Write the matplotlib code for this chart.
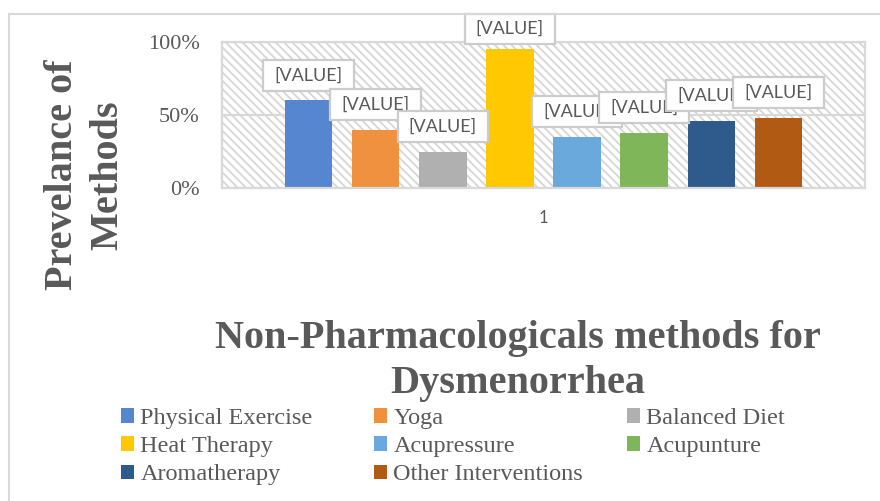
import matplotlib
matplotlib.use("Agg")
import matplotlib.pyplot as plt
from matplotlib.patches import Rectangle
from matplotlib.path import Path
from matplotlib.ticker import PercentFormatter

# ---- data ----
categories = ["1"]
series_names = ["Physical Exercise", "Yoga", "Balanced Diet", "Heat Therapy",
                "Acupressure", "Acupunture", "Aromatherapy", "Other Interventions"]
series_values = [0.60, 0.40, 0.25, 0.95, 0.35, 0.38, 0.46, 0.48]
series_colors = ["#5586CF", "#F0913F", "#B0B0B0", "#FFC800",
                 "#6AA9DC", "#80B65A", "#2E5A8C", "#B05A14"]
y_ticks = [0, 0.5, 1.0]
data_label_text = "[VALUE]"
y_title = "Prevelance of\nMethods"
x_title = "Non-Pharmacologicals methods for\nDysmenorrhea"

TXT = "#595959"
LIGHT = "#d9d9d9"
SERIF = ["Liberation Serif", "DejaVu Serif"]
SANS = ["Lato", "DejaVu Sans"]

plt.rcParams["hatch.linewidth"] = 1.3

W, H = 880, 501
fig = plt.figure(figsize=(W / 100, H / 100), dpi=100)
fig.patch.set_facecolor("white")

# outer chart frame
fig.patches.append(Rectangle((9 / W, -0.1), 1.2, 0.1 + (H - 13.5) / H,
                             transform=fig.transFigure, fill=False,
                             edgecolor=LIGHT, linewidth=1.5, zorder=0))

ax_l, ax_r, ax_t, ax_b = 222, 865, 42, 188
ax = fig.add_axes([ax_l / W, (H - ax_b) / H, (ax_r - ax_l) / W, (ax_b - ax_t) / H])
ax.set_facecolor("white")

# hatched plot-area background
ax.add_patch(Rectangle((0, 0), 1, 1, transform=ax.transAxes, facecolor="white",
                       edgecolor="#d6d6d6", hatch="\\\\\\\\", linewidth=0, zorder=0.2))

n = len(series_names)
step = 1.0
bw = 0.707


def label_box(x0, y0, width, height, mutation_size):
    px = 0.62 * mutation_size
    py = 0.4 * mutation_size
    x0, y0 = x0 - px, y0 - py
    x1, y1 = x0 + width + 2 * px, y0 + height + 2 * py
    return Path([(x0, y0), (x1, y0), (x1, y1), (x0, y1), (x0, y0)], closed=True)


ax.set_ylim(0, 1)
for i, (name, val, col) in enumerate(zip(series_names, series_values, series_colors)):
    xc = (i - (n - 1) / 2) * step
    ax.bar(xc, val, width=bw, color=col, label=name, zorder=2)
    # keep label inside the chart area (like Excel does)
    bar_top_px = ax_b - val * (ax_b - ax_t)
    off = 17
    box_top = bar_top_px - off - 22
    if box_top < 15:
        off -= (15 - box_top)
    ax.annotate(data_label_text, xy=(xc, val), xytext=(0, off),
                textcoords="offset pixels", ha="center", va="bottom",
                fontsize=13, family=SANS, color=TXT, zorder=3 + i,
                bbox=dict(boxstyle=label_box, facecolor="white",
                          edgecolor="#cccccc", linewidth=1.6))

half = (ax_r - ax_l) / 2 / 67.15
ax.set_xlim(-half, half)
ax.set_yticks(y_ticks)
ax.yaxis.set_major_formatter(PercentFormatter(1.0, decimals=0))
ax.set_xticks([0])
ax.set_xticklabels(categories)
ax.tick_params(axis="y", length=0, pad=16, labelsize=16, labelcolor=TXT)
ax.tick_params(axis="x", length=0, pad=16, labelsize=12, labelcolor=TXT)
for lab in ax.get_yticklabels():
    lab.set_family(SERIF)
for lab in ax.get_xticklabels():
    lab.set_family(SANS)

for sp in ax.spines.values():
    sp.set_color(LIGHT)
    sp.set_linewidth(1.6)
ax.set_axisbelow(True)
ax.grid(axis="y", color=LIGHT, linewidth=1.6)
ax.grid(axis="x", visible=False)

# axis titles
fig.text(85 / W, (H - 175) / H, y_title, rotation=90, ha="center", va="center",
         multialignment="center", fontsize=29, fontweight="bold", family=SERIF,
         color=TXT, linespacing=1.3)
fig.text(517.5 / W, (H - 361) / H, x_title, ha="center", va="center",
         multialignment="center", fontsize=29, fontweight="bold", family=SERIF,
         color=TXT, linespacing=1.3)

# legend: three columns laid out row-wise
handles, labels = ax.get_legend_handles_labels()
col_x = [116, 369, 622]
for c in range(3):
    idx = list(range(c, n, 3))
    leg = fig.legend([handles[k] for k in idx], [labels[k] for k in idx],
                     loc="upper left", bbox_to_anchor=(col_x[c] / W, (H - 403) / H),
                     frameon=False, ncol=1, prop={"family": SERIF, "size": 17.5},
                     handlelength=0.55, handleheight=0.55, handletextpad=0.25,
                     labelspacing=0.3, borderpad=0.2, borderaxespad=0)
    for t in leg.get_texts():
        t.set_color(TXT)

fig.savefig("out.png", dpi=100, facecolor="white")
